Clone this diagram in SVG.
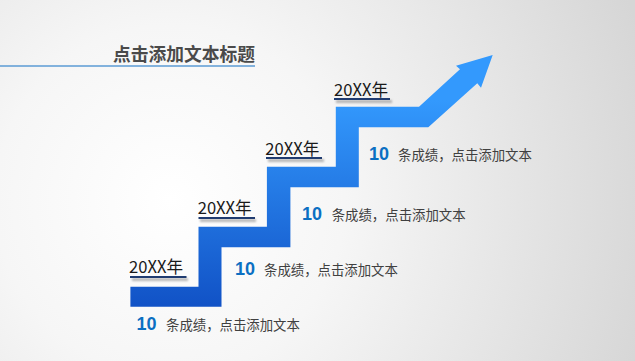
<svg xmlns="http://www.w3.org/2000/svg" width="635" height="361" viewBox="0 0 635 361">
  <defs>
    <radialGradient id="bg" cx="170" cy="200" r="500" gradientUnits="userSpaceOnUse">
      <stop offset="0" stop-color="#ffffff"/>
      <stop offset="0.35" stop-color="#f6f6f6"/>
      <stop offset="1" stop-color="#d6d6d6"/>
    </radialGradient>
    <linearGradient id="stair" x1="0" y1="307" x2="0" y2="100" gradientUnits="userSpaceOnUse">
      <stop offset="0" stop-color="#1152c6"/>
      <stop offset="1" stop-color="#3399fd"/>
    </linearGradient>
    <filter id="sh" x="-20%" y="-200%" width="140%" height="500%">
      <feGaussianBlur stdDeviation="1.3"/>
    </filter>
    <style>
      .yr { font-family: "Noto Sans CJK SC", "Noto Sans", sans-serif; font-size: 17px; fill: #1a1a1a; }
      .ul { stroke: #1f3b70; stroke-width: 2; }
      .shd { fill: #8a8a8a; opacity: 0.6; filter: url(#sh); }
      .num { font-family: "Liberation Sans", Arial, sans-serif; font-weight: bold; font-size: 18px; fill: #0b6fc2; }
      .txt { font-family: "Noto Sans CJK SC", "Noto Sans", sans-serif; font-size: 13.4px; fill: #404040; }
      .title { font-family: "Noto Sans CJK SC", "Noto Sans", sans-serif; font-weight: bold; font-size: 17.8px; fill: #4a4a4a; }
    </style>
  </defs>
  <rect width="635" height="361" fill="url(#bg)"/>

  <g id="title">
    <text class="title" x="113" y="61" textLength="142" lengthAdjust="spacingAndGlyphs">点击添加文本标题</text>
    <line x1="0" y1="66" x2="255" y2="66" stroke="#5b9bd5" stroke-width="1.3"/>
  </g>

  <g id="arrow">
    <polygon fill="url(#stair)" points="130.4,306.7 221.5,306.7 221.5,247.3 290.4,247.3 290.4,187.3 358.8,187.3 358.8,127.3 428.3,127.3 477.3,83.3 481,87.7 492.7,55 456,65.7 460,69.3 419,106.7 335.8,106.7 335.8,166.7 266.9,166.7 266.9,226.7 198.5,226.7 198.5,286.7 130.4,286.7"/>
  </g>

  <g id="step1">
    <rect class="shd" x="132" y="278" width="56" height="3"/>
    <line class="ul" x1="130" y1="277" x2="186.5" y2="277"/>
    <text class="yr" x="129" y="272.5" textLength="54" lengthAdjust="spacingAndGlyphs">20XX年</text>
    <text class="num" x="136.5" y="329.5">10</text>
    <text class="txt" x="166" y="329.5">条成绩，点击添加文本</text>
  </g>

  <g id="step2">
    <rect class="shd" x="200" y="219" width="56" height="3"/>
    <line class="ul" x1="198.5" y1="218" x2="255" y2="218"/>
    <text class="yr" x="197.7" y="213.5" textLength="54" lengthAdjust="spacingAndGlyphs">20XX年</text>
    <text class="num" x="235" y="275">10</text>
    <text class="txt" x="264" y="275">条成绩，点击添加文本</text>
  </g>

  <g id="step3">
    <rect class="shd" x="268" y="159" width="56" height="3"/>
    <line class="ul" x1="266" y1="158" x2="322" y2="158"/>
    <text class="yr" x="265.3" y="154.5" textLength="54" lengthAdjust="spacingAndGlyphs">20XX年</text>
    <text class="num" x="302" y="220">10</text>
    <text class="txt" x="331.7" y="220">条成绩，点击添加文本</text>
  </g>

  <g id="step4">
    <rect class="shd" x="336" y="100" width="56" height="3"/>
    <line class="ul" x1="334" y1="99" x2="390" y2="99"/>
    <text class="yr" x="334" y="95.5" textLength="54" lengthAdjust="spacingAndGlyphs">20XX年</text>
    <text class="num" x="369" y="160">10</text>
    <text class="txt" x="398" y="160">条成绩，点击添加文本</text>
  </g>
</svg>
